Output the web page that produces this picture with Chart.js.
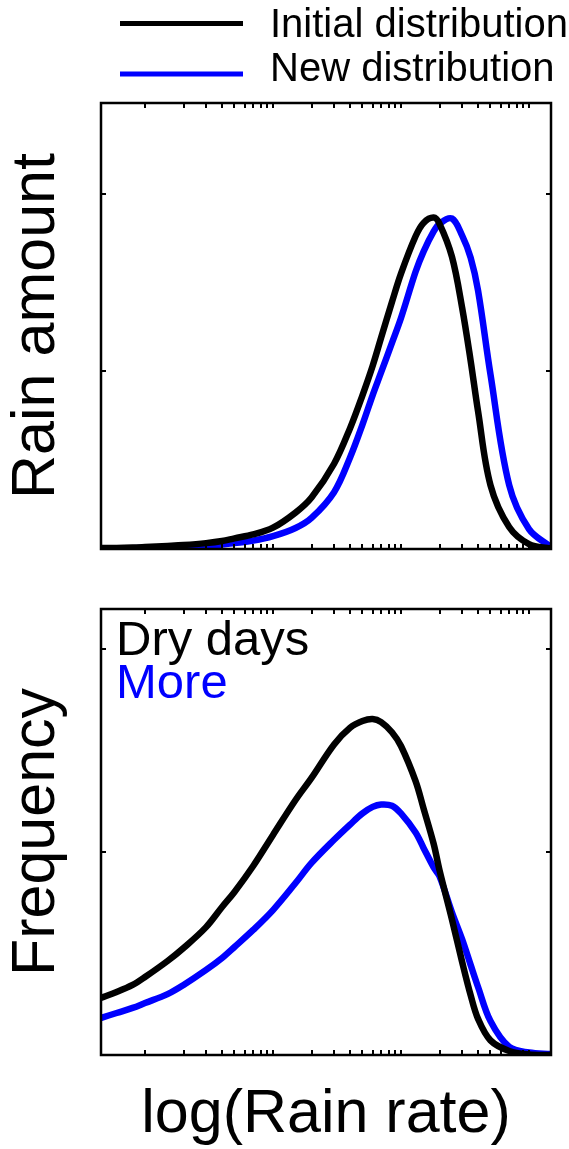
<!DOCTYPE html>
<html>
<head>
<meta charset="utf-8">
<script src="https://cdn.jsdelivr.net/npm/chart.js@4.4.1/dist/chart.umd.min.js"></script>
<style>
  html, body { margin: 0; padding: 0; background: #fff; }
  #wrap { position: relative; width: 569px; height: 1149px; overflow: hidden; }
  .panel { position: absolute; left: 0; }
</style>
</head>
<body>
<div id="wrap">
  <canvas id="amountChart" class="panel" style="top:0" width="569" height="580"></canvas>
  <canvas id="freqChart" class="panel" style="top:580px" width="569" height="569"></canvas>
</div>
<script>
// rain rate (x, log axis) shared by all four curves
const rainRate = [0.45, 0.6, 0.8, 1, 1.5, 2, 3, 4, 5, 7, 10, 15, 20, 30, 40, 50, 60, 70, 85,
  100, 130, 150, 180, 200, 250, 300, 350, 400, 500, 700, 1000, 1480];

// top panel: rain amount
const amountInitial = [0.006, 0.006, 0.008, 0.011, 0.017, 0.022, 0.033, 0.045, 0.06, 0.082,
  0.12, 0.205, 0.29, 0.48, 0.68, 0.865, 1.03, 1.19, 1.39, 1.55, 1.76, 1.835, 1.865, 1.83,
  1.645, 1.36, 1.06, 0.775, 0.36, 0.124, 0.028, 0.002];
const amountNew = [0.003, 0.003, 0.004, 0.006, 0.008, 0.011, 0.017, 0.025, 0.033, 0.047,
  0.072, 0.118, 0.175, 0.32, 0.515, 0.7, 0.865, 0.995, 1.16, 1.30, 1.56, 1.674, 1.787, 1.83,
  1.86, 1.765, 1.64, 1.455, 0.983, 0.36, 0.112, 0.011];

// bottom panel: frequency
const freqInitial = [0.281, 0.31, 0.345, 0.384, 0.463, 0.527, 0.63, 0.729, 0.803, 0.931,
  1.084, 1.256, 1.365, 1.53, 1.612, 1.645, 1.655, 1.64, 1.59, 1.522, 1.349, 1.215, 1.04, 0.91,
  0.668, 0.46, 0.295, 0.178, 0.072, 0.02, 0.003, 0.0];
const freqNew = [0.182, 0.207, 0.232, 0.256, 0.3, 0.345, 0.419, 0.478, 0.532, 0.616,
  0.714, 0.847, 0.946, 1.06, 1.135, 1.19, 1.222, 1.234, 1.228, 1.19, 1.096, 1.02, 0.924, 0.88,
  0.703, 0.571, 0.444, 0.335, 0.167, 0.04, 0.012, 0.005];

// tick marks (no labels in the figure)
const xTickValues = [1, 2, 3, 4, 5, 6, 7, 8, 9, 10, 20, 30, 40, 50, 60, 70, 80, 90,
  100, 200, 300, 400, 500, 600, 700, 800, 900, 1000];
const amountTicks = [1, 2];
const freqTicks = [1, 2];

const seriesLabels = ["Initial distribution", "New distribution"];
const seriesColors = ["#000000", "#0000ff"];
const noteLabels = ["Dry days", "More"];

const FONT = '"Liberation Sans", Arial, Helvetica, sans-serif';
Chart.defaults.font.family = FONT;

function points(ys) {
  return rainRate.map((x, i) => ({ x: x, y: ys[i] }));
}

function makeDatasets(a, b) {
  return [a, b].map((ys, i) => ({
    label: seriesLabels[i],
    data: points(ys),
    borderColor: seriesColors[i],
    borderWidth: 6.5,
    borderJoinStyle: "round",
    pointRadius: 0,
    tension: 0.35,
    fill: false
  }));
}

// box around the plot + inward ticks on all four sides
const boxPlugin = {
  id: "boxTicks",
  afterDatasetsDraw(chart, args, opts) {
    const { ctx, chartArea: a, scales } = chart;
    ctx.save();
    ctx.strokeStyle = "#000";
    ctx.lineWidth = 2;
    ctx.beginPath();
    xTickValues.forEach(v => {
      const px = Math.round(scales.x.getPixelForValue(v));
      if (px <= a.left + 1 || px >= a.right - 1) return;
      ctx.moveTo(px, a.bottom); ctx.lineTo(px, a.bottom - 5);
      ctx.moveTo(px, a.top); ctx.lineTo(px, a.top + 5);
    });
    opts.yTicks.forEach(v => {
      const py = Math.round(scales.y.getPixelForValue(v));
      ctx.moveTo(a.left, py); ctx.lineTo(a.left + 5, py);
      ctx.moveTo(a.right, py); ctx.lineTo(a.right - 5, py);
    });
    ctx.stroke();
    ctx.lineWidth = 2.5;
    ctx.strokeRect(a.left, a.top, a.right - a.left, a.bottom - a.top);
    ctx.restore();
  }
};

// legend with long line samples above the top panel
const lineLegend = {
  id: "lineLegend",
  afterDraw(chart) {
    const ctx = chart.ctx;
    const lineY = [23.5, 74];
    const textY = [37, 81];
    ctx.save();
    ctx.font = "40px " + FONT;
    ctx.textBaseline = "alphabetic";
    chart.data.datasets.forEach((ds, i) => {
      ctx.strokeStyle = ds.borderColor;
      ctx.lineWidth = 5;
      ctx.beginPath();
      ctx.moveTo(120, lineY[i]);
      ctx.lineTo(243, lineY[i]);
      ctx.stroke();
      ctx.fillStyle = "#000";
      ctx.fillText(ds.label, 270, textY[i]);
    });
    ctx.restore();
  }
};

// "Dry days" / "More" note inside bottom panel
const notePlugin = {
  id: "note",
  afterDraw(chart) {
    const ctx = chart.ctx;
    ctx.save();
    ctx.font = "49px " + FONT;
    ctx.textBaseline = "alphabetic";
    ctx.fillStyle = seriesColors[0];
    ctx.fillText(noteLabels[0], 116, 75);
    ctx.fillStyle = seriesColors[1];
    ctx.fillText(noteLabels[1], 116, 118);
    ctx.restore();
  }
};

function axisTitle(text, pad) {
  return { display: true, text: text, color: "#000", font: { size: 61, lineHeight: 1 }, padding: pad };
}

new Chart(document.getElementById("amountChart"), {
  type: "line",
  data: { datasets: makeDatasets(amountInitial, amountNew) },
  options: {
    responsive: false,
    animation: false,
    layout: { padding: { top: 103, right: 18, bottom: 31, left: 0 } },
    plugins: { legend: { display: false }, tooltip: { enabled: false }, boxTicks: { yTicks: amountTicks } },
    scales: {
      x: { type: "logarithmic", min: 0.453, max: 1486, display: false },
      y: {
        min: 0, max: 2.51,
        grid: { display: false }, border: { display: false }, ticks: { display: false },
        title: axisTitle("Rain amount", { top: 7, bottom: 0 }),
        afterFit(scale) { scale.width = 101; }
      }
    }
  },
  plugins: [boxPlugin, lineLegend]
});

new Chart(document.getElementById("freqChart"), {
  type: "line",
  data: { datasets: makeDatasets(freqInitial, freqNew) },
  options: {
    responsive: false,
    animation: false,
    layout: { padding: { top: 29, right: 18, bottom: 0, left: 0 } },
    plugins: { legend: { display: false }, tooltip: { enabled: false }, boxTicks: { yTicks: freqTicks } },
    scales: {
      x: {
        type: "logarithmic", min: 0.453, max: 1486,
        grid: { display: false }, border: { display: false }, ticks: { display: false },
        title: axisTitle("log(Rain rate)", { top: 0, bottom: 3 }),
        afterFit(scale) { scale.height = 94; }
      },
      y: {
        min: 0, max: 2.197,
        grid: { display: false }, border: { display: false }, ticks: { display: false },
        title: axisTitle("Frequency", { top: 7, bottom: 0 }),
        afterFit(scale) { scale.width = 101; }
      }
    }
  },
  plugins: [boxPlugin, notePlugin]
});
</script>
</body>
</html>
